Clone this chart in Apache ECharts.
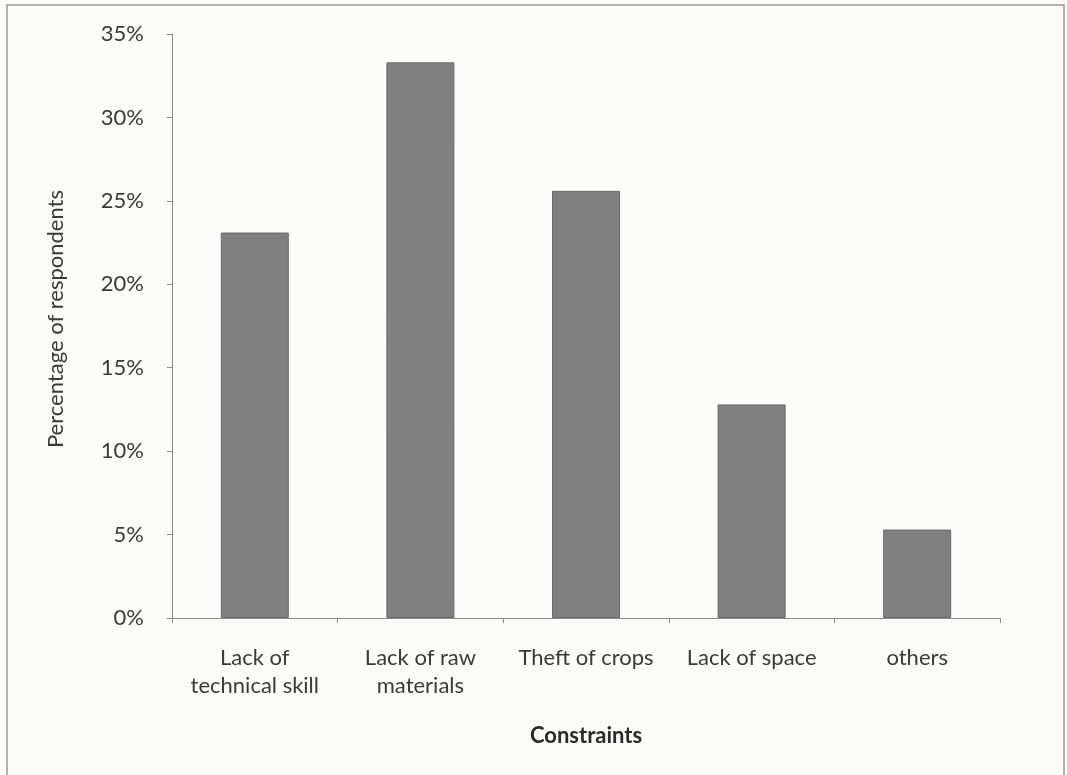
<!DOCTYPE html>
<html>
<head>
<meta charset="utf-8">
<script src="https://cdn.jsdelivr.net/npm/echarts@6/dist/echarts.min.js"></script>
<style>
  html, body { margin: 0; padding: 0; background: #fbfbfa; }
  #chart { width: 1067px; height: 775px; }
</style>
</head>
<body>
<div id="chart"></div>
<script>
// Constraints reported by respondents (percentage)
const categories = ['Lack of\ntechnical skill', 'Lack of raw\nmaterials', 'Theft of crops', 'Lack of space', 'others'];
const percentages = [23.1, 33.3, 25.6, 12.8, 5.3];
const yTicks = [0, 5, 10, 15, 20, 25, 30, 35];

const FONT = 'Lato, "Open Sans", sans-serif';
const TEXT = '#3a3a3a';
const LINE = '#8a8a8a';

const chart = echarts.init(document.getElementById('chart'), null, { renderer: 'canvas' });

chart.setOption({
  backgroundColor: '#fbfbfa',
  animation: false,
  graphic: [{
    type: 'rect',
    shape: { x: 7, y: 5, width: 1057, height: 790 },
    style: { fill: 'none', stroke: '#9a9a9a', lineWidth: 1.5 },
    silent: true
  }, {
    type: 'text',
    left: 45,
    top: 190,
    rotation: Math.PI / 2,
    style: {
      text: 'Percentage of respondents',
      font: '22px ' + FONT,
      fill: TEXT
    }
  }],
  grid: { left: 172, right: 67, top: 34, bottom: 157, containLabel: false },
  xAxis: {
    type: 'category',
    data: categories,
    name: 'Constraints',
    nameLocation: 'middle',
    nameGap: 107,
    nameTextStyle: { fontFamily: FONT, fontSize: 22, fontWeight: 'bold', color: '#2a2a2a' },
    axisLine: { lineStyle: { color: LINE, width: 1 } },
    axisTick: { show: true, length: 5, inside: false, lineStyle: { color: LINE } },
    axisLabel: {
      fontFamily: FONT, fontSize: 22, color: TEXT,
      margin: 26, lineHeight: 28, interval: 0
    },
    splitLine: { show: false }
  },
  yAxis: {
    type: 'value',
    min: 0,
    max: 35,
    interval: 5,
    axisLine: { show: true, lineStyle: { color: LINE, width: 1 } },
    axisTick: { show: true, length: 5, lineStyle: { color: LINE } },
    axisLabel: {
      fontFamily: FONT, fontSize: 22, color: TEXT, margin: 28,
      formatter: v => (yTicks.includes(v) ? v + '%' : '')
    },
    splitLine: { show: false }
  },
  series: [{
    type: 'bar',
    data: percentages,
    barWidth: 68,
    itemStyle: {
      color: '#808080',
      borderColor: '#696969',
      borderWidth: 1
    }
  }]
});
</script>
</body>
</html>
